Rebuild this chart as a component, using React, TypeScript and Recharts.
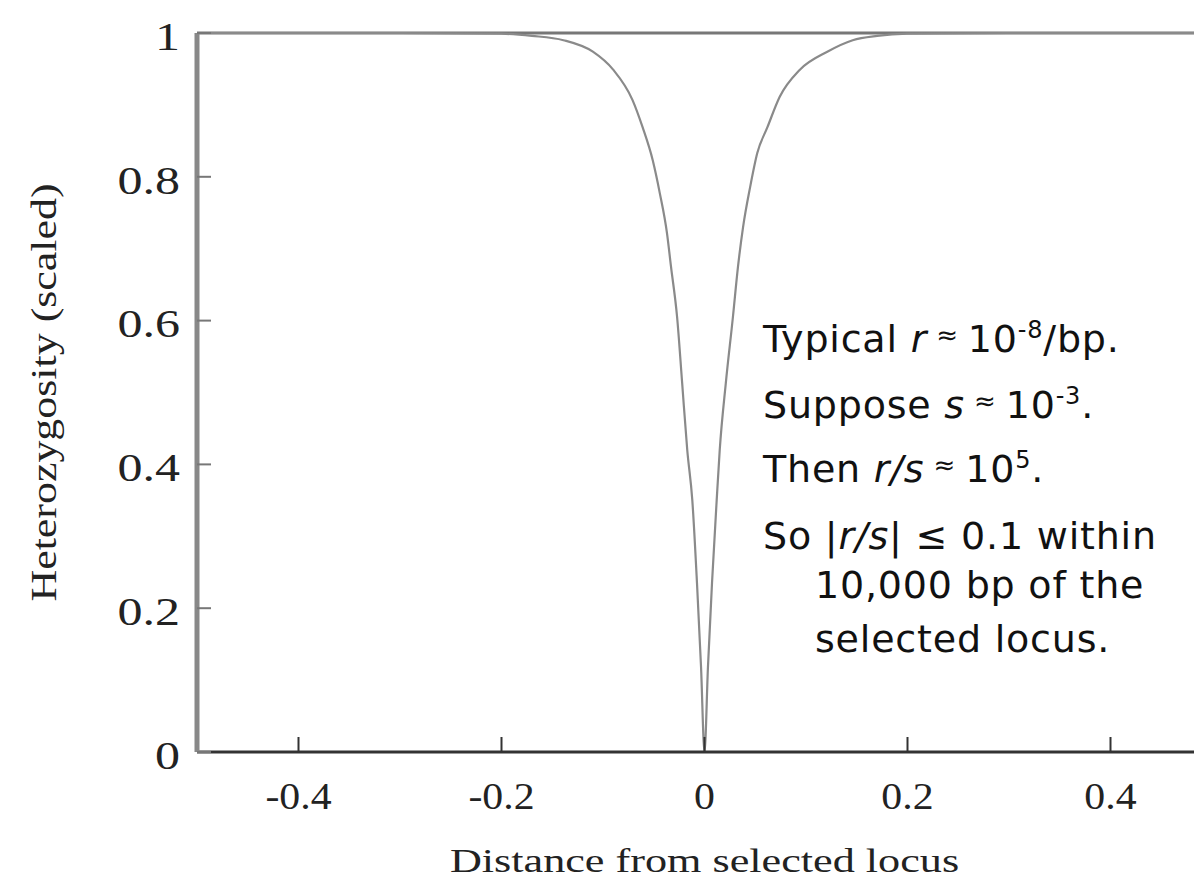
import React from "react";
import { Label, Line, LineChart, ReferenceLine, XAxis, YAxis } from "recharts";

// distance from the selected locus (left branch then right branch)
const distance = [
  -0.5, -0.4, -0.3, -0.2, -0.17, -0.139, -0.11, -0.09, -0.071, -0.061, -0.051,
  -0.044, -0.037, -0.033, -0.027, -0.022, -0.017, -0.012, -0.0074, -0.0034, 0,
  0.0034, 0.0074, 0.012, 0.015, 0.021, 0.028, 0.033, 0.038, 0.045, 0.052, 0.062,
  0.074, 0.094, 0.121, 0.146, 0.17, 0.2, 0.3, 0.4, 0.5,
];
const heterozygosity = [
  1, 1, 1, 0.999, 0.996, 0.99, 0.974, 0.949, 0.907, 0.869, 0.823,
  0.777, 0.722, 0.675, 0.605, 0.513, 0.42, 0.35, 0.235, 0.118, 0,
  0.118, 0.235, 0.35, 0.42, 0.513, 0.605, 0.675, 0.73, 0.786, 0.833, 0.869,
  0.911, 0.949, 0.974, 0.99, 0.996, 0.999, 1, 1, 1,
];
const xTicks = [-0.4, -0.2, 0, 0.2, 0.4];
const yTicks = [0, 0.2, 0.4, 0.6, 0.8, 1];

const data = distance.map((d, i) => ({ d, h: heterozygosity[i] }));

const serif = "'Liberation Serif', 'Times New Roman', serif";

const XTick = (props: any) => {
  const { x, y, payload } = props;
  return (
    <text
      x={x}
      y={y}
      dy="0.71em"
      textAnchor="middle"
      fontFamily={serif}
      fontSize={38}
      fill="#222"
      transform={`translate(${x},0) scale(1.1,1) translate(${-x},0)`}
    >
      {String(payload.value)}
    </text>
  );
};

const YTick = (props: any) => {
  const { x, y, payload } = props;
  return (
    <text
      x={x}
      y={y}
      dy="0.42em"
      textAnchor="end"
      fontFamily={serif}
      fontSize={40}
      fill="#222"
      transform={`translate(${x},0) scale(1.25,1) translate(${-x},0)`}
    >
      {String(payload.value)}
    </text>
  );
};

const XTitle = (props: any) => {
  const vb = props.viewBox;
  const cx = vb.x + vb.width / 2;
  const y = vb.y + 120;
  return (
    <text
      x={cx}
      y={y}
      textAnchor="middle"
      fontFamily={serif}
      fontSize={34}
      fill="#222"
      transform={`translate(${cx},0) scale(1.3,1) translate(${-cx},0)`}
    >
      Distance from selected locus
    </text>
  );
};

const YTitle = (props: any) => {
  const vb = props.viewBox;
  const cy = vb.y + vb.height / 2;
  const x = 56;
  return (
    <text
      x={0}
      y={0}
      textAnchor="middle"
      fontFamily={serif}
      fontSize={36}
      fill="#222"
      transform={`translate(${x},${cy}) rotate(-90) scale(1.22,1)`}
    >
      Heterozygosity (scaled)
    </text>
  );
};

const sans = "'DejaVu Sans', sans-serif";

const Note = () => (
  <svg
    width={1194}
    height={882}
    style={{ position: "absolute", left: 0, top: 0, pointerEvents: "none" }}
  >
    <g fontFamily={sans} fontSize={38} fill="#111" letterSpacing={0.8}>
      <text x={763} y={352}>
        Typical <tspan fontStyle="italic">r</tspan>
        <tspan fontSize={26} dy={-8}> ≈ </tspan>
        <tspan dy={8}>10</tspan>
        <tspan fontSize={24} dy={-14}>-8</tspan>
        <tspan dy={14}>/bp.</tspan>
      </text>
      <text x={763} y={418}>
        Suppose <tspan fontStyle="italic">s</tspan>
        <tspan fontSize={26} dy={-8}> ≈ </tspan>
        <tspan dy={8}>10</tspan>
        <tspan fontSize={24} dy={-14}>-3</tspan>
        <tspan dy={14}>.</tspan>
      </text>
      <text x={763} y={482}>
        Then <tspan fontStyle="italic">r/s</tspan>
        <tspan fontSize={26} dy={-8}> ≈ </tspan>
        <tspan dy={8}>10</tspan>
        <tspan fontSize={24} dy={-14}>5</tspan>
        <tspan dy={14}>.</tspan>
      </text>
      <text x={763} y={549}>
        So |<tspan fontStyle="italic">r/s</tspan>| ≤ 0.1 within
      </text>
      <text x={815} y={598}>
        10,000 bp of the
      </text>
      <text x={815} y={652}>
        selected locus.
      </text>
    </g>
  </svg>
);

export default function App() {
  return (
    <div
      style={{
        position: "fixed",
        left: 0,
        top: 0,
        width: 1194,
        height: 882,
        overflow: "hidden",
        background: "#fff",
      }}
    >
      <LineChart
        width={1212}
        height={882}
        data={data}
        margin={{ top: 33, right: 0, bottom: 0, left: 0 }}
      >
        <XAxis
          dataKey="d"
          type="number"
          domain={[-0.5, 0.5]}
          ticks={xTicks}
          height={130}
          tickSize={-15}
          tickMargin={45}
          tick={<XTick />}
          axisLine={{ stroke: "#333", strokeWidth: 3 }}
          tickLine={{ stroke: "#333", strokeWidth: 2 }}
          allowDataOverflow
        >
          <Label content={<XTitle />} />
        </XAxis>
        <YAxis
          type="number"
          domain={[0, 1]}
          ticks={yTicks}
          width={197}
          tickSize={-14}
          tickMargin={31}
          tick={<YTick />}
          axisLine={{ stroke: "#888", strokeWidth: 5 }}
          tickLine={{ stroke: "#777", strokeWidth: 2 }}
        >
          <Label content={<YTitle />} />
        </YAxis>
        <ReferenceLine y={1} stroke="#777" strokeWidth={3} />
        <Line
          type="monotone"
          dataKey="h"
          stroke="#8a8a8a"
          strokeWidth={2.2}
          dot={false}
          isAnimationActive={false}
        />
      </LineChart>
      <Note />
    </div>
  );
}
